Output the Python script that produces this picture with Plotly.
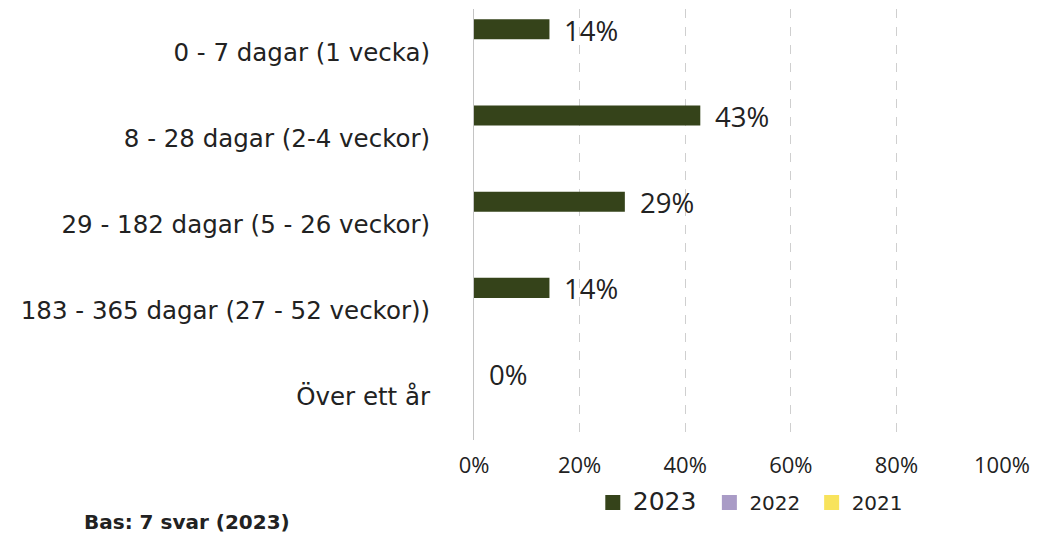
import plotly.graph_objects as go

categories = ["0 - 7 dagar (1 vecka)", "8 - 28 dagar (2-4 veckor)", "29 - 182 dagar (5 - 26 veckor)",
              "183 - 365 dagar (27 - 52 veckor))", "Över ett år"]
series_names = ["2023", "2022", "2021"]
values_2023 = [14.29, 42.86, 28.57, 14.29, 0.0]
values_2022 = [0, 0, 0, 0, 0]
values_2021 = [0, 0, 0, 0, 0]
labels_2023 = ["14%", "43%", "29%", "14%", "0%"]
x_ticks = [0, 20, 40, 60, 80, 100]
colors = ["#35431a", "#a99bc6", "#f8e35c"]

fig = go.Figure()
legend_names = ['<span style="font-size:25px">2023&nbsp;</span>', "2022&nbsp;", "2021"]
for name, vals, col in zip(legend_names, [values_2023, values_2022, values_2021], colors):
    fig.add_trace(go.Bar(y=categories, x=vals, orientation="h", name=name, showlegend=False,
                         marker=dict(color=col, line=dict(width=0)), hoverinfo="skip"))
for name, col in zip(legend_names, colors):
    fig.add_trace(go.Scatter(x=[None], y=[None], mode="markers", name=name,
                             marker=dict(symbol="square", size=15, color=col, line=dict(width=0)),
                             hoverinfo="skip"))

for cat, v, lab in zip(categories, values_2023, labels_2023):
    fig.add_annotation(x=v, y=cat, xref="x", yref="y", text=lab, showarrow=False,
                       xanchor="left", yanchor="middle", xshift=13, yshift=22,
                       font=dict(family="Open Sans", size=27.5, color="#222222"))

fig.add_annotation(x=-0.742, y=-0.19, xref="paper", yref="paper", xanchor="left", yanchor="middle",
                   text="<b>Bas: 7 svar (2023)</b>", showarrow=False,
                   font=dict(family="DejaVu Sans", size=20, color="#222222"))

fig.update_layout(
    width=1058, height=536,
    margin=dict(l=474, r=56, t=9, b=96, autoexpand=False),
    paper_bgcolor="white", plot_bgcolor="white",
    barmode="group", bargap=0.206, bargroupgap=0.12,
    showlegend=True,
    legend=dict(orientation="h", x=0.225, y=-0.1, xanchor="left", yanchor="top",
                font=dict(family="DejaVu Sans", size=20, color="#222222"),
                itemwidth=30, traceorder="normal"),
    xaxis=dict(range=[0, 100], tickvals=x_ticks, ticktext=[f"{t}%" for t in x_ticks],
               showgrid=True, gridcolor="#cfcfcf", griddash="dash", gridwidth=1,
               zeroline=False, showline=False, ticks="",
               tickfont=dict(family="Open Sans", size=22, color="#222222"),
               ticklabelstandoff=10, fixedrange=True),
    yaxis=dict(categoryorder="array", categoryarray=categories, autorange="reversed",
               showgrid=False, showline=True, linecolor="#c4c4c4", linewidth=1,
               ticks="", ticklabelstandoff=38,
               tickfont=dict(family="DejaVu Sans", size=24.5, color="#222222"), fixedrange=True),
)

fig.write_html("out.html", config={"displayModeBar": False},
               post_script="document.body.style.margin='0';")
